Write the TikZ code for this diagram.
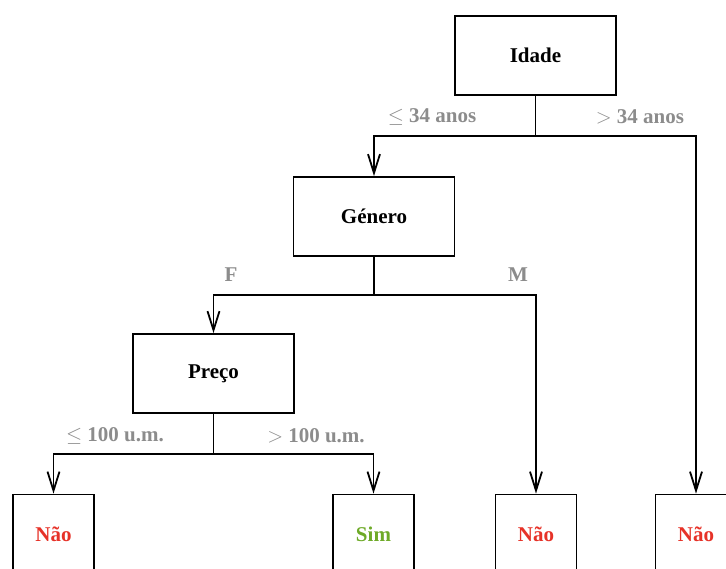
\documentclass[tikz,border=0pt]{standalone}
\usepackage{fontspec}
\setmainfont{Liberation Serif}
\usetikzlibrary{arrows.meta}
\definecolor{nored}{RGB}{230,50,40}
\definecolor{yesgreen}{RGB}{110,170,40}
\definecolor{lblgray}{RGB}{140,140,140}
\begin{document}
\begin{tikzpicture}[x=1pt,y=-1pt,
  box/.style={draw,line width=1.8pt,minimum width=161pt,minimum height=79pt,inner sep=0pt,
    font=\fontsize{21}{24}\selectfont\bfseries},
  leaf/.style={draw,line width=1.8pt,minimum width=81pt,minimum height=79pt,inner sep=0pt,
    font=\fontsize{21}{24}\selectfont\bfseries},
  edge/.style={line width=1.8pt},
  arr/.style={line width=1.8pt,-{Straight Barb[length=19pt,width=12pt,line width=1.8pt]}},
  lbl/.style={text=lblgray,font=\fontsize{21}{24}\selectfont\bfseries,inner sep=0pt}]
\useasboundingbox (0,0) rectangle (726,568);
\node[box] (idade) at (535.5,55.5) {Idade};
\node[box] (genero) at (374,216.5) {Género};
\node[box] (preco) at (213.5,373.5) {Preço};
\node[leaf,text=nored] (l1) at (53.5,534) {Não};
\node[leaf,text=yesgreen] (l2) at (373.5,534) {Sim};
\node[leaf,text=nored] (l3) at (536,534) {Não};
\node[leaf,text=nored] (l4) at (696,534) {Não};
% Idade
\coordinate (j1) at (535.5,136);
\draw[edge] (idade.south) -- (j1);
\draw[arr] (j1) -| (genero.north);
\draw[arr] (j1) -| (l4.north);
% Genero
\coordinate (j2) at (374,295);
\draw[edge] (genero.south) -- (j2);
\draw[arr] (j2) -| (preco.north);
\draw[arr] (j2) -| (l3.north);
% Preco
\coordinate (j3) at (213.5,454);
\draw[edge] (preco.south) -- (j3);
\draw[arr] (j3) -| (l1.north);
\draw[arr] (j3) -| (l2.north);
% labels
\node[lbl] (t1) at (432,117) {$\leq$ 34 anos};
\node[lbl] (t2) at (640,117) {$>$ 34 anos};
\node[lbl] (t3) at (231,275) {F};
\node[lbl] (t4) at (518,275) {M};
\node[lbl] (t5) at (115,436) {$\leq$ 100 u.m.};
\node[lbl] (t6) at (316,436) {$>$ 100 u.m.};
\end{tikzpicture}
\end{document}
